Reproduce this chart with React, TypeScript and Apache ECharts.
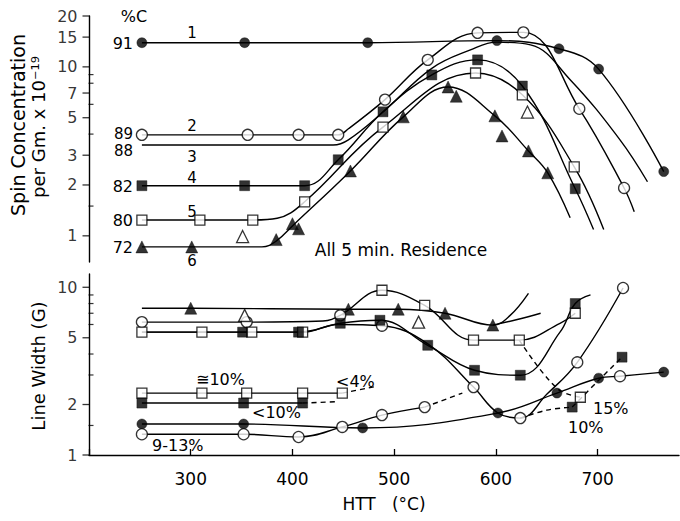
import React, { useEffect, useRef } from 'react';
import * as echarts from 'echarts';

const X_MIN = 200;
const X_MAX = 780;
const X_TICK_STEP = 100;

const TOP_Y_MIN = 0.7;
const TOP_Y_MAX = 20;
const BOT_Y_MIN = 1;
const BOT_Y_MAX = 12;

const TOP_Y_LABELS = [1, 2, 3, 5, 7, 10, 15, 20];
const TOP_Y_MINOR = [1.5, 4, 6, 8, 9];
const BOT_Y_LABELS = [1, 2, 5, 10];
const BOT_Y_MINOR = [1.5, 3, 4, 6, 7, 8, 9];

// ---------- Top panel: spin concentration ----------
// 1: 91 %C (filled circles)
const s1Curve = [[252, 13.9], [353, 13.9], [474, 13.9], [601, 14.3], [662, 12.8], [701, 9.7], [765, 2.4]];
const s1Marks = [[252, 13.9], [353, 13.9], [474, 13.9], [601, 14.3], [662, 12.8], [701, 9.7], [765, 2.4]];
// 2: 89 %C (open circles)
const s2Curve = [[252, 3.96], [356, 3.96], [406, 3.96], [445, 3.96], [455, 4.3], [491, 6.4], [533, 11.0], [582, 15.9], [627, 16.0], [682, 5.65], [726, 1.92], [736, 1.39]];
const s2Marks = [[252, 3.96], [356, 3.96], [406, 3.96], [445, 3.96], [491, 6.4], [533, 11.0], [582, 15.9], [627, 16.0], [682, 5.65], [726, 1.92]];
// 3: 88 %C (no markers)
const s3Curve = [[252, 3.45], [440, 3.45], [455, 3.7], [489, 5.4], [537, 9.8], [575, 12.6], [601, 14.0], [634, 13.5], [673, 8.4], [722, 3.7], [749, 2.09]];
// 4: 82 %C (filled squares)
const s4Curve = [[252, 1.98], [353, 1.98], [412, 1.98], [445, 2.82], [489, 5.42], [537, 8.96], [582, 11.0], [626, 7.7], [678, 1.9], [696, 1.09]];
const s4Marks = [[252, 1.98], [353, 1.98], [412, 1.98], [445, 2.82], [489, 5.42], [537, 8.96], [582, 11.0], [626, 7.7], [678, 1.9]];
// 5: 80 %C (open squares)
const s5Curve = [[252, 1.24], [309, 1.24], [361, 1.24], [385, 1.27], [412, 1.59], [489, 4.4], [580, 9.2], [626, 6.83], [677, 2.56], [706, 1.09]];
const s5Marks = [[252, 1.24], [309, 1.24], [361, 1.24], [412, 1.59], [489, 4.4], [580, 9.2], [626, 6.83], [677, 2.56]];
// 6: 72 %C (filled triangles)
const s6Curve = [[252, 0.86], [301, 0.86], [370, 0.86], [384, 0.93], [401, 1.16], [457, 2.42], [509, 5.06], [553, 7.6], [599, 5.13], [632, 3.18], [651, 2.36], [673, 1.28]];
const s6Marks = [[252, 0.86], [301, 0.86], [384, 0.95], [400, 1.18], [406, 1.1], [457, 2.42], [509, 5.06], [553, 7.6], [561, 6.7], [599, 5.13], [606, 3.9], [632, 3.18], [651, 2.36]];
const topOpenTri = [[351, 0.99], [631, 5.4]];

// ---------- Bottom panel: line width ----------
const bTriCurve = [[252, 7.5], [300, 7.5], [455, 7.4], [504, 7.4], [550, 7.0], [597, 5.95], [614, 6.8], [632, 9.2]];
const bTriMarks = [[300, 7.5], [455, 7.4], [504, 7.4], [550, 7.0], [597, 5.95]];
const bTri2Curve = [[597, 5.95], [620, 6.4], [644, 7.0]];

const bOcUpCurve = [[252, 6.2], [355, 6.2], [430, 6.3], [447, 6.8], [488, 9.6], [530, 7.8], [578, 4.84], [623, 4.84], [663, 6.1], [678, 7.0]];
const bOcUpCircles = [[252, 6.2], [355, 6.2], [447, 6.8]];
const bOcUpSquares = [[488, 9.6], [530, 7.8], [578, 4.84], [623, 4.84], [678, 7.0]];

const bOsqCurve = [[252, 5.4], [311, 5.4], [360, 5.4], [410, 5.4], [445, 6.0], [488, 5.9], [533, 4.6], [578, 2.54], [602, 1.78], [624, 1.66], [650, 2.3], [680, 3.57], [725, 9.9]];
const bOsqSquares = [[252, 5.4], [311, 5.4], [360, 5.4], [410, 5.4]];
const bOsqCircles = [[488, 5.9], [578, 2.54], [624, 1.66], [680, 3.57], [725, 9.9]];

const bFsqCurve = [[252, 5.4], [351, 5.4], [406, 5.4], [447, 6.1], [486, 6.36], [533, 4.51], [579, 3.2], [624, 2.99], [663, 5.4], [678, 8.0], [693, 9.0]];
const bFsqMarks = [[351, 5.4], [406, 5.4], [447, 6.1], [486, 6.36], [533, 4.51], [579, 3.2], [624, 2.99], [678, 8.0]];

const bOsqLowCurve = [[252, 2.34], [449, 2.34]];
const bOsqLowMarks = [[252, 2.34], [311, 2.34], [355, 2.34], [410, 2.34], [449, 2.34]];
const bOsqLowDash = [[449, 2.34], [480, 2.55]];

const bFsqLowCurve = [[252, 2.04], [410, 2.04]];
const bFsqLowMarks = [[252, 2.04], [352, 2.04], [410, 2.04]];
const bFsqLowDash = [[410, 2.04], [445, 2.08]];

const bFcCurve = [[252, 1.53], [352, 1.53], [469, 1.45], [602, 1.78], [660, 2.34], [701, 2.87], [722, 2.95], [765, 3.12]];
const bFcMarks = [[252, 1.53], [352, 1.53], [469, 1.45], [602, 1.78], [660, 2.34], [701, 2.87], [765, 3.12]];

const bOcLowCurve = [[252, 1.33], [352, 1.33], [406, 1.28], [449, 1.47], [488, 1.73], [530, 1.93]];
const bOcLowMarks = [[252, 1.33], [352, 1.33], [406, 1.28], [449, 1.47], [488, 1.73], [530, 1.93]];
const bOcLowDash = [[530, 1.93], [567, 2.34]];

const bDashA = [[623, 4.84], [660, 2.5], [683, 2.21]];
const bDashB = [[624, 1.66], [650, 1.85], [675, 1.93]];
const bDashC = [[675, 1.93], [700, 2.75], [724, 3.83]];

const bLoneFsq = [[724, 3.83], [675, 1.93]];
const bLoneOsq = [[683, 2.21]];
const bLoneOc = [[722, 2.95]];
const bOpenTri = [[353, 6.8], [524, 6.2]];

const FONT = 'DejaVu Sans';

function lineS(data: number[][], g: number, dashed = false, smooth = 0.4) {
  return {
    type: 'line', xAxisIndex: g, yAxisIndex: g, data, smooth,
    symbol: 'none', silent: true, z: 2,
    lineStyle: { color: '#000', width: 1.4, type: dashed ? [5, 4] : 'solid' },
  };
}

function markS(data: number[][], g: number, kind: string) {
  const filled = kind[0] === 'f';
  const shape = kind[1] === 'c' ? 'circle' : kind[1] === 's' ? 'rect' : 'triangle';
  const size = shape === 'circle' ? (filled ? 10 : 11) : shape === 'rect' ? 10 : 12;
  return {
    type: 'scatter', xAxisIndex: g, yAxisIndex: g, data, symbol: shape, symbolSize: size,
    silent: true, z: 4,
    itemStyle: filled
      ? { color: '#000', borderColor: '#000', borderWidth: 0.5 }
      : { color: '#fff', borderColor: '#000', borderWidth: 1.3 },
  };
}

function tickS(vals: number[], g: number, labeled: boolean) {
  return {
    type: 'scatter', xAxisIndex: g, yAxisIndex: g, silent: true, clip: false, z: 5,
    data: vals.map((v) => [X_MIN, v]),
    symbol: 'rect', symbolSize: labeled ? [7, 1.3] : [5, 1.2], symbolOffset: labeled ? [-3, 0] : [2, 0],
    itemStyle: { color: '#000' },
    label: labeled
      ? { show: true, position: 'left', distance: 5, formatter: (p: any) => String(p.value[1]), fontFamily: FONT, fontSize: 16, color: '#000' }
      : { show: false },
  };
}

function txt(text: string, x: number, y: number, opts: any = {}) {
  return {
    type: 'text', x, y, rotation: opts.rotation || 0, silent: true,
    style: {
      text, fill: '#000', font: `${opts.size || 15}px "${FONT}"`,
      align: opts.align || 'center', verticalAlign: 'middle',
    },
  };
}

export default function App() {
  const ref = useRef<HTMLDivElement>(null);
  useEffect(() => {
    if (!ref.current) return;
    const chart = echarts.init(ref.current, undefined, { renderer: 'svg' });
    const axisLine = { show: true, lineStyle: { color: '#000', width: 1.4 } };
    const option: any = {
      animation: false,
      backgroundColor: '#fff',
      grid: [
        { left: 89, right: 1, top: 16, height: 246 },
        { left: 89, right: 1, top: 274, height: 181 },
      ],
      xAxis: [
        { type: 'value', gridIndex: 0, min: X_MIN, max: X_MAX, interval: X_TICK_STEP, show: false },
        {
          type: 'value', gridIndex: 1, min: X_MIN, max: X_MAX, interval: X_TICK_STEP,
          axisLine, splitLine: { show: false },
          axisTick: { show: true, inside: true, length: 6, lineStyle: { color: '#000', width: 1.3 } },
          axisLabel: {
            show: true, margin: 15, color: '#000', fontFamily: FONT, fontSize: 17,
            showMaxLabel: false,
            formatter: (v: number) => (v === X_MIN ? '' : String(v)),
          },
        },
      ],
      yAxis: [
        { type: 'log', gridIndex: 0, min: TOP_Y_MIN, max: TOP_Y_MAX, axisLine, axisTick: { show: false }, axisLabel: { show: false }, splitLine: { show: false }, minorTick: { show: false } },
        { type: 'log', gridIndex: 1, min: BOT_Y_MIN, max: BOT_Y_MAX, axisLine, axisTick: { show: false }, axisLabel: { show: false }, splitLine: { show: false }, minorTick: { show: false } },
      ],
      series: [
        tickS(TOP_Y_LABELS, 0, true),
        tickS(TOP_Y_MINOR, 0, false),
        tickS(BOT_Y_LABELS, 1, true),
        tickS(BOT_Y_MINOR, 1, false),
        // top
        lineS(s1Curve, 0), markS(s1Marks, 0, 'fc'),
        lineS(s2Curve, 0), markS(s2Marks, 0, 'oc'),
        lineS(s3Curve, 0),
        lineS(s4Curve, 0), markS(s4Marks, 0, 'fs'),
        lineS(s5Curve, 0), markS(s5Marks, 0, 'os'),
        lineS(s6Curve, 0), markS(s6Marks, 0, 'ft'),
        markS(topOpenTri, 0, 'ot'),
        // bottom
        lineS(bTriCurve, 1), markS(bTriMarks, 1, 'ft'),
        lineS(bTri2Curve, 1),
        lineS(bOcUpCurve, 1), markS(bOcUpCircles, 1, 'oc'), markS(bOcUpSquares, 1, 'os'),
        lineS(bOsqCurve, 1), markS(bOsqSquares, 1, 'os'), markS(bOsqCircles, 1, 'oc'),
        lineS(bFsqCurve, 1), markS(bFsqMarks, 1, 'fs'),
        lineS(bOsqLowCurve, 1), markS(bOsqLowMarks, 1, 'os'), lineS(bOsqLowDash, 1, true),
        lineS(bFsqLowCurve, 1), markS(bFsqLowMarks, 1, 'fs'), lineS(bFsqLowDash, 1, true),
        lineS(bFcCurve, 1), markS(bFcMarks, 1, 'fc'),
        lineS(bOcLowCurve, 1), markS(bOcLowMarks, 1, 'oc'), lineS(bOcLowDash, 1, true),
        lineS(bDashA, 1, true), lineS(bDashB, 1, true), lineS(bDashC, 1, true),
        markS(bLoneFsq, 1, 'fs'), markS(bLoneOsq, 1, 'os'), markS(bLoneOc, 1, 'oc'),
        markS(bOpenTri, 1, 'ot'),
      ],
      graphic: [
        txt('%C', 134, 16, { size: 16 }),
        txt('91', 133, 43, { align: 'right', size: 16 }),
        txt('89', 133, 134, { align: 'right', size: 15 }),
        txt('88', 133, 151, { align: 'right', size: 15 }),
        txt('82', 133, 186, { align: 'right', size: 16 }),
        txt('80', 133, 220, { align: 'right', size: 16 }),
        txt('72', 133, 247, { align: 'right', size: 16 }),
        txt('1', 192, 33), txt('2', 192, 126), txt('3', 192, 157),
        txt('4', 192, 178), txt('5', 192, 212), txt('6', 192, 261),
        txt('All 5 min. Residence', 401, 250, { size: 17 }),
        txt('\u224510%', 196, 379, { align: 'left', size: 16 }),
        txt('<10%', 252, 412, { align: 'left', size: 16 }),
        txt('<4%', 336, 381, { align: 'left', size: 16 }),
        txt('9-13%', 152, 445, { align: 'left', size: 16 }),
        txt('15%', 593, 408, { align: 'left', size: 16 }),
        txt('10%', 568, 427, { align: 'left', size: 16 }),
        txt('HTT   (\u00b0C)', 384, 504, { size: 17 }),
        txt('Spin Concentration', 18, 125, { size: 19, rotation: Math.PI / 2 }),
        txt('per Gm. x 10\u207b\u00b9\u2079', 38, 127, { size: 18, rotation: Math.PI / 2 }),
        txt('Line Width (G)', 38, 366, { size: 18, rotation: Math.PI / 2 }),
      ],
    };
    chart.setOption(option);
    return () => chart.dispose();
  }, []);
  return <div ref={ref} style={{ position: 'fixed', left: 0, top: 0, width: 680, height: 521, background: '#fff' }} />;
}
